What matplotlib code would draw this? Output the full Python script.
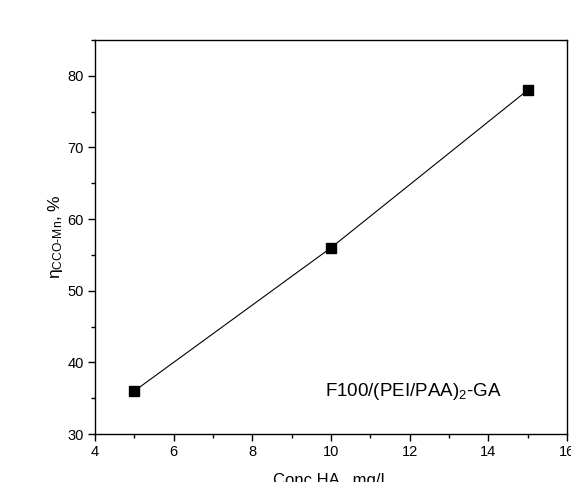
import numpy as np
import matplotlib
matplotlib.use("Agg")
import matplotlib.pyplot as plt
from matplotlib.ticker import MultipleLocator

plt.rcParams['font.family'] = ['Liberation Sans', 'DejaVu Sans']
plt.rcParams['mathtext.fontset'] = 'custom'
plt.rcParams['mathtext.rm'] = 'Liberation Sans'
plt.rcParams['mathtext.it'] = 'Liberation Sans'

# data
conc = [5, 10, 15]
eta = [36, 56, 78]

fig = plt.figure(figsize=(5.71, 4.82), dpi=100)
ax = fig.add_axes([95/571, 48/482, 472/571, 394/482])

ax.plot(conc, eta, color='black', lw=0.8, marker='s', ms=6.5, mfc='black', mec='black')

ax.set_xlim(4, 16)
ax.set_ylim(30, 85)
ax.xaxis.set_major_locator(MultipleLocator(2))
ax.xaxis.set_minor_locator(MultipleLocator(1))
ax.yaxis.set_major_locator(MultipleLocator(10))
ax.yaxis.set_minor_locator(MultipleLocator(5))
ax.tick_params(which='both', direction='out', top=False, right=False, labelsize=10.5)
ax.tick_params(which='major', length=5, width=1, pad=3)
ax.tick_params(which='minor', length=3, width=1)
for s in ax.spines.values():
    s.set_linewidth(1)

ax.set_xlabel('Conc HA , mg/L', fontsize=12, labelpad=10)
ax.set_ylabel(r'$\mathrm{\eta_{CCO\text{-}Mn}}$, %', fontsize=12.5, labelpad=2)

ax.text(9.85, 35.3, r'F100/(PEI/PAA)$_2$-GA', fontsize=13.5)

fig.savefig('out.png', dpi=100)
